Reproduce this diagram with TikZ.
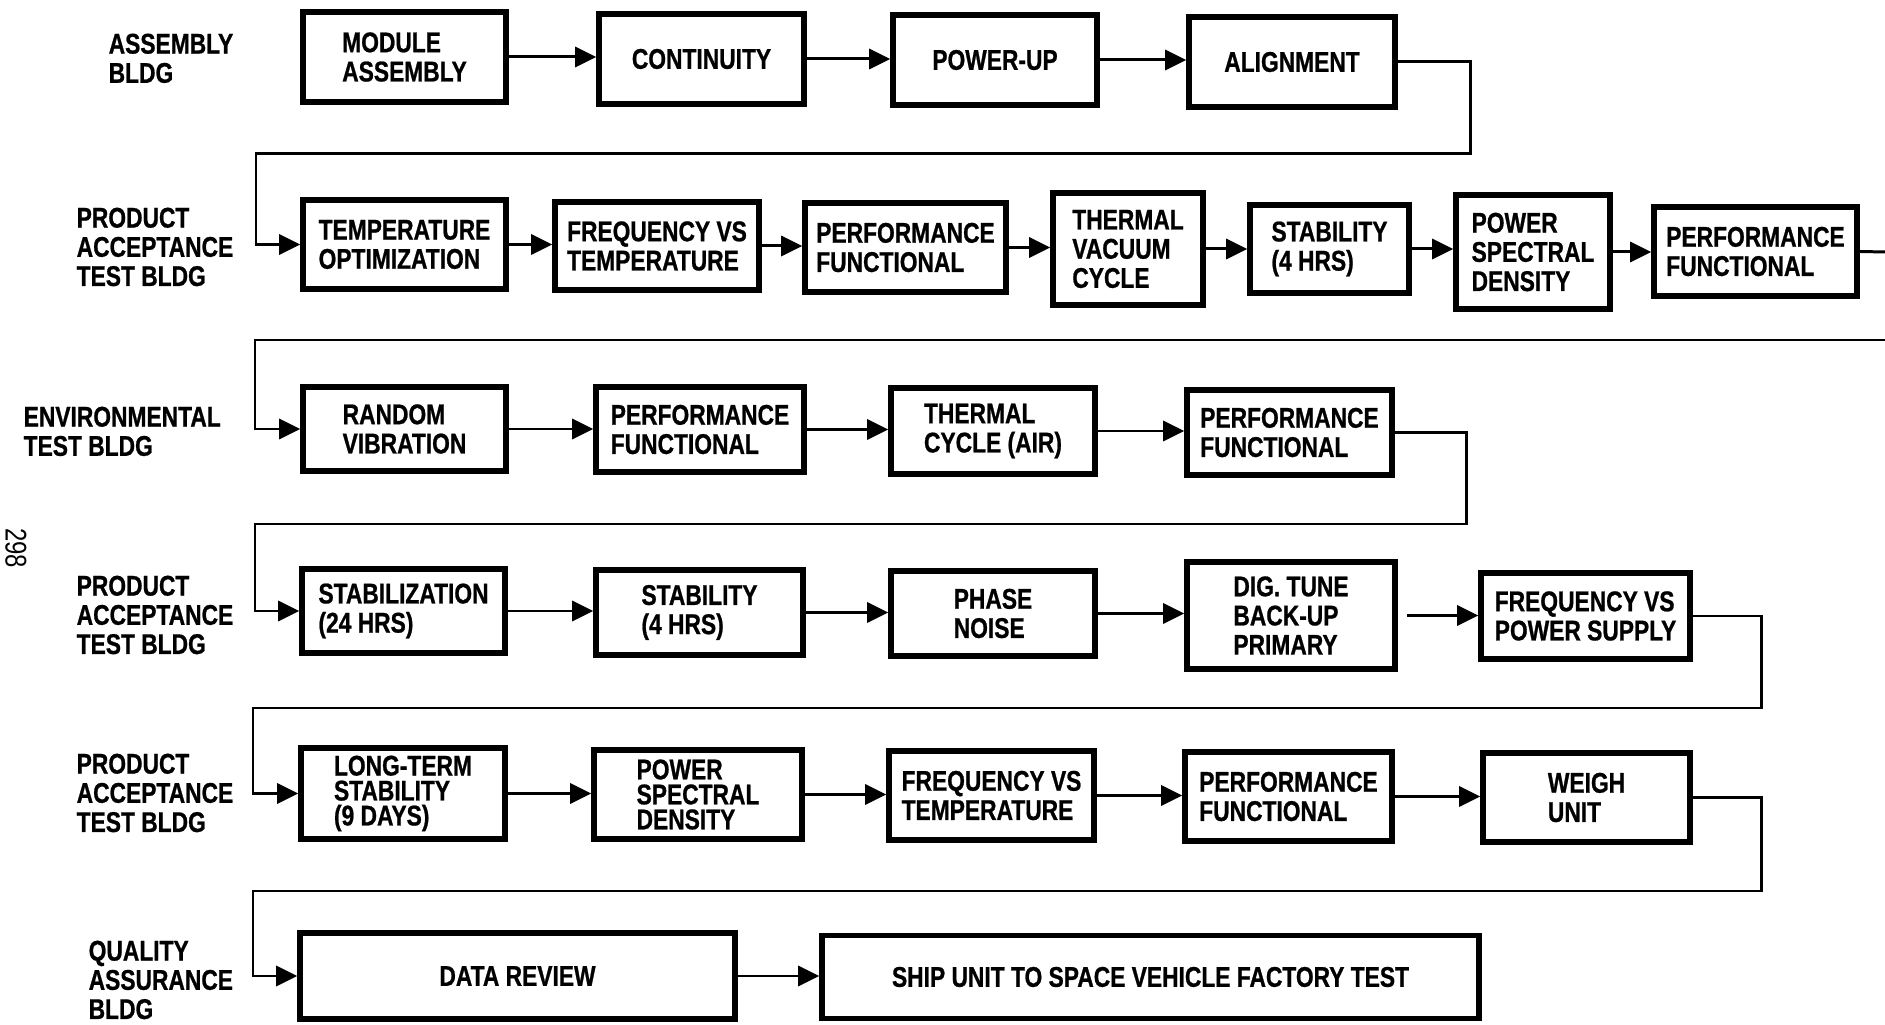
\documentclass[tikz,border=0pt]{standalone}
\usepackage{fontspec}
\setmainfont{Liberation Sans}[FakeStretch=0.8, BoldFeatures={FakeBold=0.8}]
\usetikzlibrary{arrows.meta}
\newcommand{\bxf}{\fontsize{8.1pt}{8.3pt}\selectfont\bfseries}
\newcommand{\bxt}{\fontsize{8.1pt}{7.1pt}\selectfont\bfseries}
\begin{document}
\begin{tikzpicture}[x=0.01cm,y=-0.01cm,
  bx/.style 2 args={draw, line width=1.6pt, minimum width=#1*0.01cm, minimum height=#2*0.01cm, inner sep=0pt, align=left, font=\bxf},
  tight/.style={font=\bxt},
  lbl/.style={anchor=north west, inner sep=0pt, align=left, font=\bxf},
  conn/.style={line width=0.85pt},
  arr/.style={conn, -{Triangle[length=0.21cm,width=0.2cm]}}
]
\useasboundingbox (0,0) rectangle (1885,1025);

% labels
\node[lbl] (L1) at (108,33) {ASSEMBLY\\BLDG};
\node[lbl] (L2) at (76,207) {PRODUCT\\ACCEPTANCE\\TEST BLDG};
\node[lbl] (L3) at (23,406) {ENVIRONMENTAL\\TEST BLDG};
\node[lbl] (L4) at (76,575) {PRODUCT\\ACCEPTANCE\\TEST BLDG};
\node[lbl] (L5) at (76,753) {PRODUCT\\ACCEPTANCE\\TEST BLDG};
\node[lbl] (L6) at (88,940) {QUALITY\\ASSURANCE\\BLDG};
\node[rotate=-90, font=\fontsize{8.5pt}{9pt}\selectfont, inner sep=0pt] (pg) at (16,548) {298};

% row 1
\node[bx={203}{90}] (ma) at (404.5,57) {MODULE\\ASSEMBLY};
\node[bx={205}{90}] (cont) at (701.5,59) {CONTINUITY};
\node[bx={204}{90}] (pwr) at (995,60) {POWER-UP};
\node[bx={206}{90}] (aln) at (1292,62) {ALIGNMENT};

% row 2
\node[bx={203}{89}] (to) at (404.5,244.5) {TEMPERATURE\\OPTIMIZATION};
\node[bx={204}{88}] (fvt) at (657,246) {FREQUENCY VS\\TEMPERATURE};
\node[bx={201}{89}] (pfa) at (905.5,247.5) {PERFORMANCE\\FUNCTIONAL};
\node[bx={150}{112}] (tvc) at (1128,249) {THERMAL\\VACUUM\\CYCLE};
\node[bx={159}{88}] (sta) at (1329.5,249) {STABILITY\\(4 HRS)};
\node[bx={154}{114}] (psa) at (1533,252) {POWER\\SPECTRAL\\DENSITY};
\node[bx={203}{89}] (pfb) at (1755.5,251.5) {PERFORMANCE\\FUNCTIONAL};

% row 3
\node[bx={203}{84}] (rv) at (404.5,429) {RANDOM\\VIBRATION};
\node[bx={208}{85}] (pfc) at (700,429.5) {PERFORMANCE\\FUNCTIONAL};
\node[bx={204}{86}] (tca) at (993,431) {THERMAL\\CYCLE (AIR)};
\node[bx={205}{85}] (pfd) at (1289.5,432.5) {PERFORMANCE\\FUNCTIONAL};

% row 4
\node[bx={203}{84}] (stz) at (403.5,611) {STABILIZATION\\(24 HRS)};
\node[bx={207}{85}] (stb) at (699.5,612.5) {STABILITY\\(4 HRS)};
\node[bx={204}{85}] (pn) at (993,613.5) {PHASE\\NOISE};
\node[bx={208}{107}] (dig) at (1291,615.5) {DIG. TUNE\\BACK-UP\\PRIMARY};
\node[bx={209}{86}] (fps) at (1585.5,616) {FREQUENCY VS\\POWER SUPPLY};

% row 5
\node[bx={204}{91},tight] (lts) at (403,793.5) {LONG-TERM\\STABILITY\\(9 DAYS)};
\node[bx={208}{89},tight] (psb) at (698,794.5) {POWER\\SPECTRAL\\DENSITY};
\node[bx={205}{89}] (fvb) at (991.5,795.5) {FREQUENCY VS\\TEMPERATURE};
\node[bx={207}{89}] (pfe) at (1288.5,796.5) {PERFORMANCE\\FUNCTIONAL};
\node[bx={207}{89}] (wu) at (1586.5,797.5) {WEIGH\\UNIT};

% row 6
\node[bx={435}{86}] (dr) at (517.5,976) {DATA REVIEW};
\node[bx={657}{83}] (ship) at (1150.5,977) {SHIP UNIT TO SPACE VEHICLE FACTORY TEST};

% row arrows
\draw[arr] (ma.east) -- (ma.east -| cont.west);
\draw[arr] (cont.east) -- (cont.east -| pwr.west);
\draw[arr] (pwr.east) -- (pwr.east -| aln.west);

\draw[arr] (to.east) -- (to.east -| fvt.west);
\draw[arr] (fvt.east) -- (fvt.east -| pfa.west);
\draw[arr] (pfa.east) -- (pfa.east -| tvc.west);
\draw[arr] (tvc.east) -- (tvc.east -| sta.west);
\draw[arr] (sta.east) -- (sta.east -| psa.west);
\draw[arr] (psa.east) -- (psa.east -| pfb.west);

\draw[arr] (rv.east) -- (rv.east -| pfc.west);
\draw[arr] (pfc.east) -- (pfc.east -| tca.west);
\draw[arr] (tca.east) -- (tca.east -| pfd.west);

\draw[arr] (stz.east) -- (stz.east -| stb.west);
\draw[arr] (stb.east) -- (stb.east -| pn.west);
\draw[arr] (pn.east) -- (pn.east -| dig.west);
\draw[arr] ([xshift=0.09cm]dig.east) -- (dig.east -| fps.west);

\draw[arr] (lts.east) -- (lts.east -| psb.west);
\draw[arr] (psb.east) -- (psb.east -| fvb.west);
\draw[arr] (fvb.east) -- (fvb.east -| pfe.west);
\draw[arr] (pfe.east) -- (pfe.east -| wu.west);

\draw[arr] (dr.east) -- (dr.east -| ship.west);

% row-to-row connectors
\coordinate (a1) at (1470,154); \coordinate (b1) at (256,154);
\draw[arr] (aln.east) -| (a1) -- (b1) |- (to.west);

\coordinate (e2) at (1885,252);
\draw[conn] (pfb.east) -- (e2);
\coordinate (e3) at (1885,340); \coordinate (b2) at (255,340);
\draw[arr] (e3) -- (b2) |- (rv.west);

\coordinate (a3) at (1466,524); \coordinate (b3) at (255,524);
\draw[arr] (pfd.east) -| (a3) -- (b3) |- (stz.west);

\coordinate (a4) at (1761,708); \coordinate (b4) at (253,708);
\draw[arr] (fps.east) -| (a4) -- (b4) |- (lts.west);

\coordinate (a5) at (1761,891); \coordinate (b5) at (253,891);
\draw[arr] (wu.east) -| (a5) -- (b5) |- (dr.west);
\end{tikzpicture}
\end{document}
